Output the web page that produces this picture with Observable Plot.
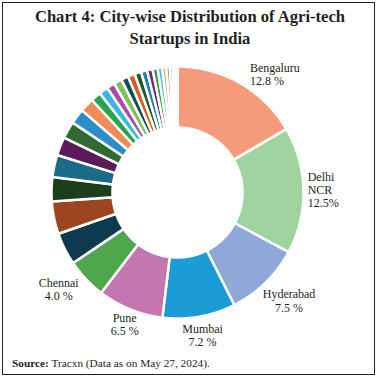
<!DOCTYPE html>
<html>
<head>
<meta charset="utf-8">
<script src="https://cdn.jsdelivr.net/npm/d3@7"></script>
<script src="https://cdn.jsdelivr.net/npm/@observablehq/plot@0.6"></script>
<style>
  html, body { margin: 0; padding: 0; background: #fff; }
  #wrap { position: relative; width: 380px; height: 381px; overflow: hidden; background: #fff; }
  #frame { position: absolute; left: 2px; top: 2px; width: 373px; height: 373px; border: 1px solid #222; box-sizing: border-box; }
  #title { position: absolute; left: 0; top: 6px; width: 380px; text-align: center;
    font-family: "Liberation Serif", "DejaVu Serif", serif; font-weight: bold; font-size: 16.6px; line-height: 22px; color: #231f20; }
  #chart { position: absolute; left: 0; top: 52px; }
  #source { position: absolute; left: 12px; top: 357px; font-family: "Liberation Serif", serif; font-size: 11.3px; color: #231f20; }
</style>
</head>
<body>
<div id="wrap">
  <div id="frame"></div>
  <div id="title">Chart 4: City-wise Distribution of Agri-tech<br>Startups in India</div>
  <div id="chart"></div>
  <div id="source"><b>Source:</b> Tracxn (Data as on May 27, 2024).</div>
</div>
<script>
// ---- data ----
const cities = ["Bengaluru", "Delhi NCR", "Hyderabad", "Mumbai", "Pune", "Chennai",
  "City 7", "City 8", "City 9", "City 10", "City 11", "City 12", "City 13", "City 14",
  "City 15", "City 16", "City 17", "City 18", "City 19", "City 20", "City 21", "City 22",
  "City 23", "City 24", "City 25", "City 26", "City 27", "City 28", "City 29", "City 30"];
const shares = [12.8, 12.5, 7.5, 7.2, 6.5, 4.0,
  3.2, 3.2, 2.4, 2.2, 1.8, 1.7, 1.5, 1.4,
  1.0, 0.9, 0.8, 0.8, 0.7, 0.7, 0.65, 0.6,
  0.55, 0.5, 0.45, 0.4, 0.35, 0.3, 0.25, 0.2];
const colors = ["#f59b7b", "#9fd4a1", "#8fa8d8", "#1c9cd7", "#c476b0", "#4ea84b",
  "#0d3a4d", "#9b4621", "#1b3e1d", "#1c6a8a", "#5b1b59", "#2f6a31", "#2a8fc8", "#f08c5a",
  "#22a84a", "#3bb4e8", "#a84ca8", "#7cc350", "#124a5e", "#d4601e", "#1f5a2a", "#2080b8",
  "#6e2a7e", "#3a9a3a", "#4ab8e8", "#f4a080", "#5ab84a", "#5ac0ea", "#a0d8f0", "#8ccc6a"];
const labelTexts = ["Bengaluru\n12.8 %", "Delhi\nNCR\n12.5%", "Hyderabad\n7.5 %",
  "Mumbai\n7.2 %", "Pune\n6.5 %", "Chennai\n4.0 %"];

// ---- layout (not data) ----
const W = 380, H = 298, unit = 126, cx = 177, cy = 140;
const innerR = 0.516, outerR = 1, labelR = 1.2;
const labelLayout = [
  {dx: -3, dy: 13, anchor: "start"},
  {dx: -21, dy: 0, anchor: "start"},
  {dx: 6, dy: 0, anchor: "middle"},
  {dx: -1, dy: -6, anchor: "middle"},
  {dx: 4, dy: -8, anchor: "middle"},
  {dx: -9, dy: -7, anchor: "middle"}
];

const arcs = d3.pie().sort(null).value(d => d)(shares);

const ring = [];
arcs.forEach((a, i) => {
  const n = Math.max(2, Math.ceil((a.endAngle - a.startAngle) / 0.01));
  for (let k = 0; k <= n; k++) {
    const t = a.startAngle + (a.endAngle - a.startAngle) * k / n;
    ring.push({key: i, city: cities[i], x: outerR * Math.sin(t), y: outerR * Math.cos(t)});
  }
  for (let k = n; k >= 0; k--) {
    const t = a.startAngle + (a.endAngle - a.startAngle) * k / n;
    ring.push({key: i, city: cities[i], x: innerR * Math.sin(t), y: innerR * Math.cos(t)});
  }
});

const labels = labelTexts.map((text, i) => {
  const a = arcs[i];
  const mid = (a.startAngle + a.endAngle) / 2;
  const L = labelLayout[i];
  return {
    text,
    anchor: L.anchor,
    x: labelR * Math.sin(mid) + L.dx / unit,
    y: labelR * Math.cos(mid) - L.dy / unit
  };
});

const textStyle = {fontSize: 12, fill: "#231f20", lineAnchor: "middle", lineHeight: 1.1,
  fontFamily: "Liberation Serif, serif"};

const chart = Plot.plot({
  width: W, height: H,
  margin: 0,
  x: {domain: [-cx / unit, (W - cx) / unit], axis: null},
  y: {domain: [-(H - cy) / unit, cy / unit], axis: null},
  color: {domain: cities, range: colors},
  style: {background: "transparent", overflow: "visible"},
  marks: [
    Plot.line(ring, {x: "x", y: "y", z: "key", fill: "city", stroke: "white",
      strokeWidth: 2.5, curve: "linear-closed", strokeLinejoin: "miter"}),
    Plot.text(labels.filter(d => d.anchor === "start"), {x: "x", y: "y", text: "text",
      textAnchor: "start", ...textStyle}),
    Plot.text(labels.filter(d => d.anchor === "middle"), {x: "x", y: "y", text: "text",
      textAnchor: "middle", ...textStyle})
  ]
});
document.getElementById("chart").appendChild(chart);
</script>
</body>
</html>
